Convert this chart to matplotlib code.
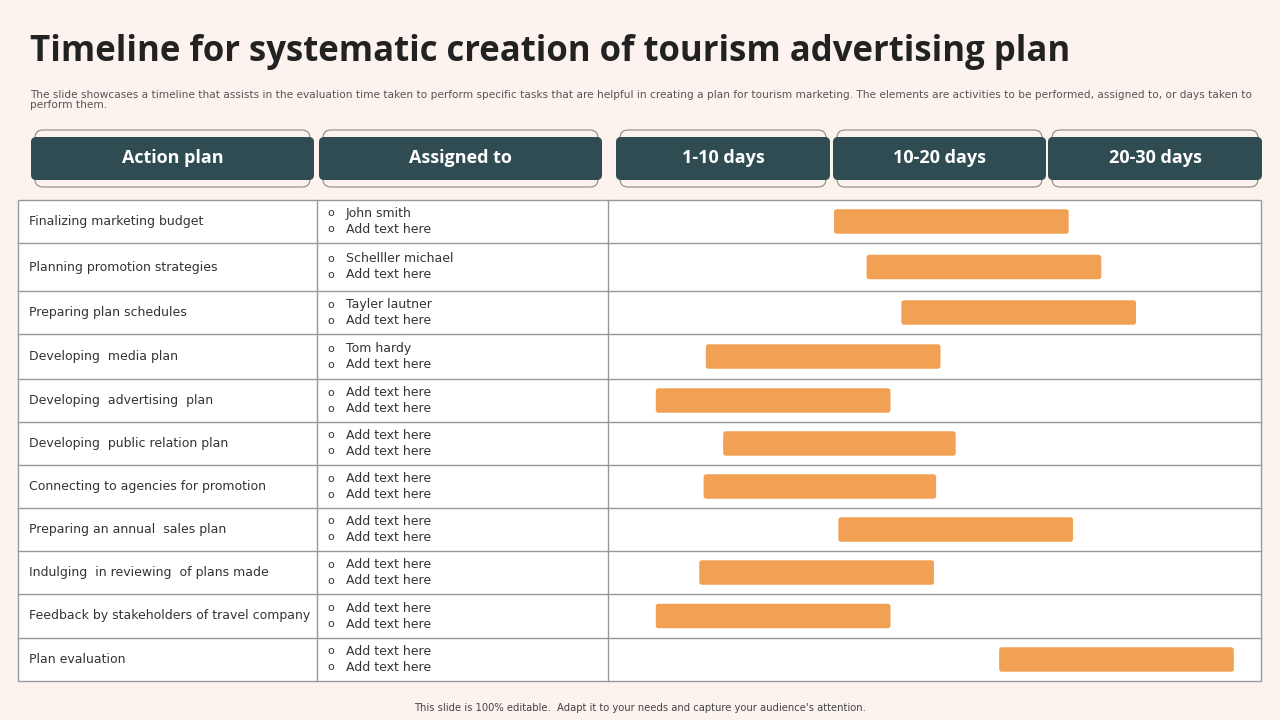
import matplotlib.pyplot as plt
from matplotlib.patches import FancyBboxPatch

actions = ["Finalizing marketing budget", "Planning promotion strategies", "Preparing plan schedules",
           "Developing  media plan", "Developing  advertising  plan", "Developing  public relation plan",
           "Connecting to agencies for promotion", "Preparing an annual  sales plan",
           "Indulging  in reviewing  of plans made", "Feedback by stakeholders of travel company",
           "Plan evaluation"]
assigned = ["John smith", "Schelller michael", "Tayler lautner", "Tom hardy"] + ["Add text here"] * 7
start_day = [10.4, 11.9, 13.5, 4.5, 2.2, 5.3, 4.4, 10.6, 4.2, 2.2, 18.0]
end_day = [21.2, 22.7, 24.3, 15.3, 13.0, 16.0, 15.1, 21.4, 15.0, 13.0, 28.8]
headers = ["Action plan", "Assigned to", "1-10 days", "10-20 days", "20-30 days"]
header_x = [(33, 312), (321, 600), (618, 828), (835, 1044), (1050, 1260)]
row_edges = [200, 243, 291, 334, 379, 422, 465, 508, 551, 594, 638, 681]

BG = "#FDF3EE"
W, H = 1280, 720
fig = plt.figure(figsize=(12.8, 7.2), dpi=100, facecolor=BG)
ax = fig.add_axes([0, 0, 1, 1])
ax.set_xlim(0, W)
ax.set_ylim(H, 0)
ax.axis("off")

ax.text(30, 52, "Timeline for systematic creation of tourism advertising plan", fontsize=25,
        fontweight="bold", color="#222222", va="center", family="Open Sans")
ax.text(30, 100, "The slide showcases a timeline that assists in the evaluation time taken to perform specific tasks that are helpful in creating a plan for tourism marketing. The elements are activities to be performed, assigned to, or days taken to\nperform them.",
        fontsize=7.6, color="#555555", va="center", linespacing=1.0)

for name, (x0, x1) in zip(headers, header_x):
    ax.add_patch(FancyBboxPatch((x0 + 2, 130), x1 - x0 - 4, 57, boxstyle="round,pad=0,rounding_size=8",
                                fc="none", ec="#888888", lw=0.8))
    ax.add_patch(FancyBboxPatch((x0 - 2, 137), x1 - x0 + 4, 43, boxstyle="round,pad=0,rounding_size=5",
                                fc="#2F4C52", ec="none"))
    ax.text((x0 + x1) / 2, 158, name, color="white", fontsize=13, fontweight="bold",
            ha="center", va="center", family="Open Sans")

# table
ax.add_patch(plt.Rectangle((18, 200), 1261 - 18, 481, fc="white", ec="#999999", lw=1))
for y in row_edges[1:-1]:
    ax.plot([18, 1261], [y, y], color="#999999", lw=1)
for x in (317, 608):
    ax.plot([x, x], [200, 681], color="#999999", lw=1)

for i, (a, p) in enumerate(zip(actions, assigned)):
    yc = (row_edges[i] + row_edges[i + 1]) / 2
    ax.text(29, yc, a, fontsize=9, color="#333333", va="center")
    for dy, t in ((-8, p), (8, "Add text here")):
        ax.text(327, yc + dy, "o", fontsize=8, color="#333333", va="center")
        ax.text(346, yc + dy, t, fontsize=9, color="#333333", va="center")

ax.text(640, 708, "This slide is 100% editable.  Adapt it to your needs and capture your audience's attention.",
        fontsize=7.2, color="#444444", ha="center", va="center")

# bars on a day scale
bx = fig.add_axes([608 / W, 1 - 681 / H, (1261 - 608) / W, 481 / H])
bx.set_xlim(0, 30.05)
bx.set_ylim(len(actions) - 0.5, -0.5)
bx.axis("off")
bx.patch.set_alpha(0)
centers = [((row_edges[i] + row_edges[i + 1]) / 2 - 200) / 481 * len(actions) - 0.5 for i in range(len(actions))]
for c, s, e in zip(centers, start_day, end_day):
    bx.add_patch(FancyBboxPatch((s, c - 0.28), e - s, 0.56, boxstyle="round,pad=0,rounding_size=0.12",
                                fc="#F2A154", ec="none", mutation_aspect=0.5))

fig.savefig("out.png", dpi=100, facecolor=BG)
